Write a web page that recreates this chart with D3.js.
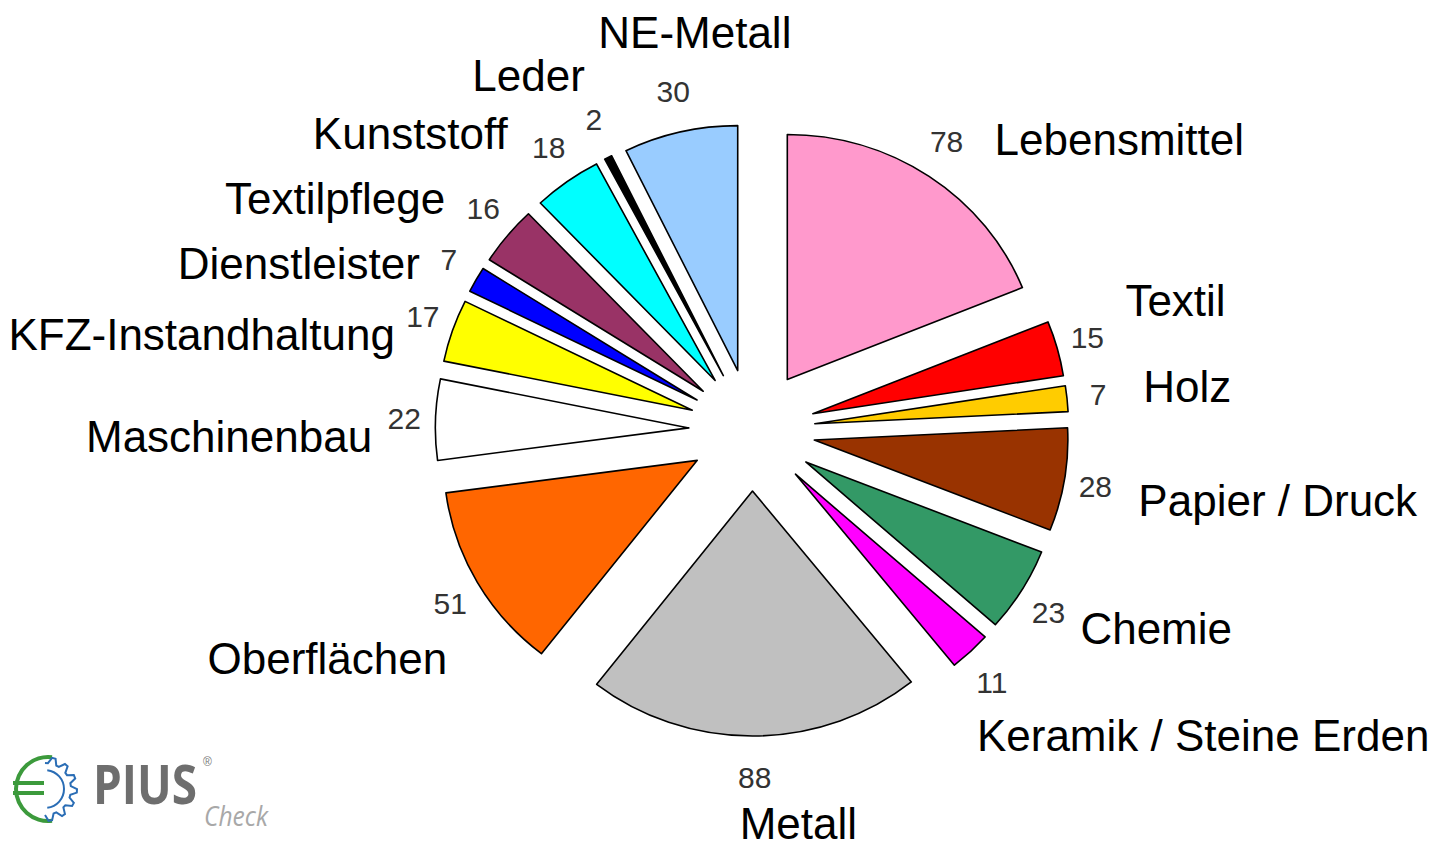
<!DOCTYPE html>
<html>
<head>
<meta charset="utf-8">
<script src="https://cdn.jsdelivr.net/npm/d3@7"></script>
<style>
  body { margin: 0; background: #fff; }
  svg { display: block; }
</style>
</head>
<body>
<div id="chart"></div>
<script>
// data
const categories = ["Lebensmittel", "Textil", "Holz", "Papier / Druck", "Chemie",
    "Keramik / Steine Erden", "Metall", "Oberflächen", "Maschinenbau",
    "KFZ-Instandhaltung", "Dienstleister", "Textilpflege", "Kunststoff", "Leder", "NE-Metall"]
const values = [78, 15, 7, 28, 23, 11, 88, 51, 22, 17, 7, 16, 18, 2, 30]
const colors = ["#ff99cc", "#ff0000", "#ffcc00", "#993300", "#339966", "#ff00ff",
    "#c0c0c0", "#ff6600", "#ffffff", "#ffff00", "#0000ff", "#993366", "#00ffff", "#000000", "#99ccff"]

// where the category names sit, relative to the value labels
const labelDx = [48, 38, 45, 43, 32, -15, -15, -3, -32, -28, -29, -38, -41, -9, -75]
const labelDy = [14, -21, 8, 29, 32, 69, 61, 71, 34, 33, 20, 5, 1, -29, -43]
const labelAnchor = ["start", "start", "start", "start", "start", "start", "start",
    "end", "end", "end", "end", "end", "end", "end", "start"]

const width = 1446, height = 848
const cx = 752, cy = 430
const radius = 245, explode = 61, sx = 1.035
const valueRadius = 348

const svg = d3.select("#chart")
    .append("svg")
    .attr("width", width)
    .attr("height", height)

const table = categories.map((c, i) => ({ name: c, value: values[i], color: colors[i] }))

const pie = d3.pie()
    .sort(null)
    .value(d => d.value)
    .startAngle(0)
    .endAngle(2 * Math.PI)

const arc = d3.arc()
    .innerRadius(0)
    .outerRadius(radius)

const arcs = pie(table)

// the exploded slices
const g = svg.append("g")
    .attr("transform", `translate(${cx},${cy}) scale(${sx},1)`)

g.selectAll("path")
    .data(arcs)
    .enter()
    .append("path")
    .attr("d", arc)
    .attr("transform", d => {
        const a = (d.startAngle + d.endAngle) / 2
        return `translate(${explode * Math.sin(a)},${-explode * Math.cos(a)})`
    })
    .attr("fill", d => d.data.color)
    .attr("stroke", "#000")
    .attr("stroke-width", 1.6)
    .attr("stroke-linejoin", "round")
    .attr("vector-effect", "non-scaling-stroke")

// value labels
const valuePos = arcs.map(d => {
    const a = (d.startAngle + d.endAngle) / 2
    return [cx + valueRadius * Math.sin(a), cy - valueRadius * Math.cos(a)]
})

svg.selectAll("text.value")
    .data(arcs)
    .enter()
    .append("text")
    .attr("class", "value")
    .attr("x", (d, i) => valuePos[i][0])
    .attr("y", (d, i) => valuePos[i][1])
    .attr("text-anchor", "middle")
    .attr("dominant-baseline", "central")
    .style("font-family", "'Liberation Sans', Arial, sans-serif")
    .style("font-size", "30px")
    .style("fill", "#333")
    .text(d => d.data.value)

// category names
svg.selectAll("text.cat")
    .data(arcs)
    .enter()
    .append("text")
    .attr("class", "cat")
    .attr("x", (d, i) => valuePos[i][0] + labelDx[i])
    .attr("y", (d, i) => valuePos[i][1] + labelDy[i])
    .attr("text-anchor", (d, i) => labelAnchor[i])
    .style("font-family", "'Liberation Sans', Arial, sans-serif")
    .style("font-size", "44px")
    .style("fill", "#000")
    .text(d => d.data.name)

// PIUS Check logo, bottom left
const logo = svg.append("g")
const ex = 48, ey = 789
logo.append("path")
    .attr("d", d3.arc().innerRadius(30).outerRadius(34)
        .startAngle(Math.PI * 0.96).endAngle(Math.PI * 2.04))
    .attr("transform", `translate(${ex},${ey})`)
    .attr("fill", "#3c9a3c")
logo.append("rect").attr("x", 13).attr("y", 781).attr("width", 31).attr("height", 4).attr("fill", "#3c9a3c")
logo.append("rect").attr("x", 13).attr("y", 791).attr("width", 31).attr("height", 4).attr("fill", "#3c9a3c")

// gear outline
const gearPts = []
const teeth = 7
for (let k = 0; k <= teeth * 4; k++) {
    const t = -Math.PI / 2 + Math.PI * k / (teeth * 4)
    const r = (Math.floor(k / 2) % 2 === 0) ? 26 : 32
    gearPts.push([ex - 3 + r * Math.cos(t), ey + r * Math.sin(t)])
}
logo.append("path")
    .attr("d", d3.line()(gearPts))
    .attr("fill", "none")
    .attr("stroke", "#2a6db5")
    .attr("stroke-width", 2)
logo.append("path")
    .attr("d", d3.arc().innerRadius(18).outerRadius(20).startAngle(0.12).endAngle(Math.PI - 0.12))
    .attr("transform", `translate(${ex - 3},${ey})`)
    .attr("fill", "#2a6db5")

// squeeze a text horizontally so it is w pixels wide
function squeeze(sel, x, y, w) {
    const natural = sel.node().getComputedTextLength()
    sel.attr("transform", `translate(${x},${y}) scale(${w / natural},1)`)
}

const pius = logo.append("text")
    .style("font-family", "'Open Sans', 'Liberation Sans', sans-serif")
    .style("font-weight", "bold")
    .style("font-size", "54px")
    .style("fill", "#6e6e6e")
    .text("PIUS")
squeeze(pius, 93, 804, 104)

logo.append("text")
    .attr("x", 203)
    .attr("y", 766)
    .style("font-family", "'Liberation Sans', sans-serif")
    .style("font-size", "12px")
    .style("fill", "#777")
    .text("®")

const check = logo.append("text")
    .style("font-family", "'Open Sans', 'Liberation Sans', sans-serif")
    .style("font-style", "italic")
    .style("font-size", "27px")
    .style("fill", "#a8a8a8")
    .text("Check")
squeeze(check, 204, 826, 64)
</script>
</body>
</html>
